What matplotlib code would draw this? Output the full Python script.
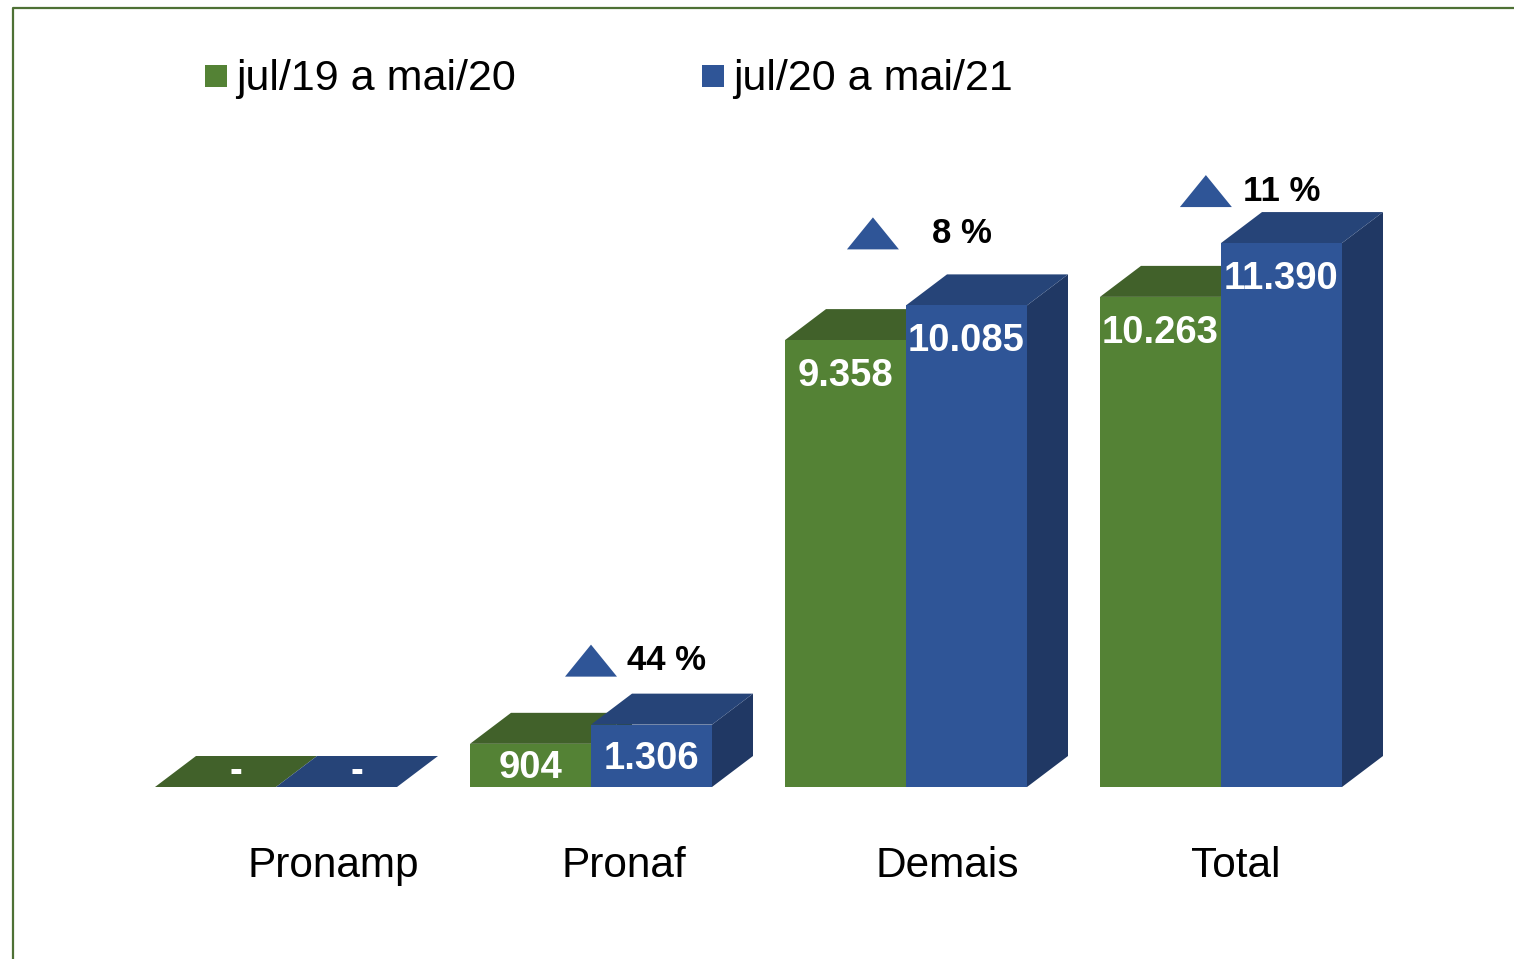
"""3D-style grouped bar chart: jul/19 a mai/20 vs jul/20 a mai/21."""

import matplotlib

matplotlib.use("Agg")
import matplotlib.pyplot as plt
from matplotlib.lines import Line2D
from matplotlib.patches import Polygon, Rectangle

plt.rcParams["font.family"] = ["Liberation Sans", "DejaVu Sans"]

categories = ["Pronamp", "Pronaf", "Demais", "Total"]
series_names = ["jul/19 a mai/20", "jul/20 a mai/21"]
values_prev = [0, 904, 9358, 10263]
values_curr = [0, 1306, 10085, 11390]

FRONT = ["#548235", "#2f5597"]
TOP = ["#41612a", "#264478"]
SIDE = ["#33501f", "#203864"]

# layout (figure is 1514x959 px, axes fill it)
W_PX, H_PX = 1514, 959
PX_PER_CAT = 315
BASE_X_PX, BASE_Y_PX = 276, 787
UNITS_PER_PX = 20.94
BAR_W = 121 / PX_PER_CAT
DX = 41 / PX_PER_CAT
DY = 31 * UNITS_PER_PX

# small per-category nudges for annotations (px)
label_dx = [0.181, 0.105, 0.130, 0.048]
tri_dx = [0, 0.0, -0.105, -0.048]
tri_gap_px = [0, 17, 25, 5]
pct_gap_px = [0, 10, 33, 11]


def fmt(v):
    return "-" if v == 0 else f"{v:,}".replace(",", ".")


def draw_bar(ax, x0, v, k):
    x1 = x0 + BAR_W
    side = [(x1, 0), (x1 + DX, DY), (x1 + DX, v + DY), (x1, v)]
    top = [(x0, v), (x1, v), (x1 + DX, v + DY), (x0 + DX, v + DY)]
    ax.add_patch(Polygon(side, closed=True, facecolor=SIDE[k], edgecolor="none"))
    ax.add_patch(Polygon(top, closed=True, facecolor=TOP[k], edgecolor="none"))
    if v > 0:
        ax.add_patch(Rectangle((x0, 0), BAR_W, v, facecolor=FRONT[k], edgecolor="none"))
    # value label
    if v == 0:
        lx, ly = x0 + BAR_W / 2 + DX / 2, DY / 2
    else:
        lx, ly = x0 + BAR_W / 2, max(v - 36 * UNITS_PER_PX, v * 0.45)
    ax.text(lx, ly, fmt(v), color="white", fontsize=27.5, fontweight="bold",
            ha="center", va="center")


fig = plt.figure(figsize=(W_PX / 100, H_PX / 100), dpi=100)
ax = fig.add_axes([0, 0, 1, 1])
ax.set_xlim(-BASE_X_PX / PX_PER_CAT, (W_PX - BASE_X_PX) / PX_PER_CAT)
ax.set_ylim(-(H_PX - BASE_Y_PX) * UNITS_PER_PX, BASE_Y_PX * UNITS_PER_PX)
ax.axis("off")

for i, cat in enumerate(categories):
    draw_bar(ax, i - BAR_W, values_prev[i], 0)
    draw_bar(ax, i, values_curr[i], 1)

    ax.text(i + label_dx[i], -79 * UNITS_PER_PX, cat, fontsize=30.5,
            ha="center", va="center", color="black")

    if values_prev[i] > 0:
        pct = round((values_curr[i] / values_prev[i] - 1) * 100)
        cx = i + tri_dx[i]
        by = values_curr[i] + DY + tri_gap_px[i] * UNITS_PER_PX
        hw = 26 / PX_PER_CAT
        th = 32 * UNITS_PER_PX
        ax.add_patch(Polygon([(cx - hw, by), (cx + hw, by), (cx, by + th)],
                             closed=True, facecolor=FRONT[1], edgecolor="none"))
        ax.text(cx + hw + pct_gap_px[i] / PX_PER_CAT, by + th / 2,
                f"{pct} %", fontsize=25, fontweight="bold", ha="left", va="center")

# legend drawn by hand to sit where the original has it
legend_x_px = [205, 702]
for k, name in enumerate(series_names):
    fig.patches.append(Rectangle((legend_x_px[k] / W_PX, 1 - 87 / H_PX), 22 / W_PX, 22 / H_PX,
                                 transform=fig.transFigure, facecolor=FRONT[k],
                                 edgecolor="none"))
    fig.text((legend_x_px[k] + 31) / W_PX, 1 - 79 / H_PX, name, fontsize=31,
             ha="left", va="center")

# chart border (left and top edges visible)
fig.lines.append(Line2D([13 / W_PX, 13 / W_PX, 1.0], [0.0, 1 - 8 / H_PX, 1 - 8 / H_PX],
                        transform=fig.transFigure, color="#4e7135", linewidth=1.6))

fig.savefig("out.png", dpi=100)
